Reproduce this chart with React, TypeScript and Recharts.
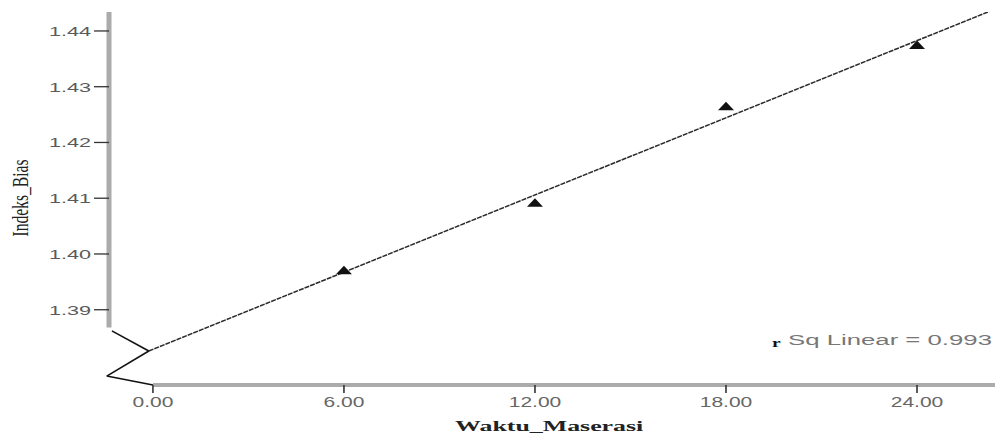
import React from 'react';
import { ScatterChart, Scatter, XAxis, YAxis, ReferenceLine } from 'recharts';

// data
const waktu = [6, 12, 18, 24];
const indeksBias = [1.3971, 1.4092, 1.4265, 1.4375];
const xTicks = [0, 6, 12, 18, 24];
const yTicks = [1.39, 1.4, 1.41, 1.42, 1.43, 1.44];

// linear fit (r Sq = 0.993)
const fitIntercept = 1.3829;
const fitSlope = 0.002307;
const fitX = [-0.13, 26.36];
const rSq = '0.993';

// axis break (zigzag) and axis extents, in data units
const xMin = -1.38;
const xMax = 26.45;
const yMin = 1.3765;
const yMax = 1.4434;
const yAxisBottom = 1.3868;
const breakX = [-1.29, -0.13, -1.45, 0];
const breakY = [1.3862, 1.3826, 1.3781, 1.3765];

const points = waktu.map((x, i) => ({ x, y: indeksBias[i] }));
const fitData = fitX.map((x) => ({ x, y: fitIntercept + fitSlope * x }));
const breakPts = breakX.map((x, i) => ({ x, y: breakY[i] }));

const XTick = (props: any) => {
  const { x, y, payload } = props;
  return (
    <text
      transform={`translate(${x},${y}) scale(1.5,1)`}
      x={0}
      y={0}
      dy={12}
      textAnchor="middle"
      fill="#666"
      fontSize={14}
      fontFamily="Liberation Sans, Arial, sans-serif"
    >
      {Number(payload.value).toFixed(2)}
    </text>
  );
};

const YTick = (props: any) => {
  const { x, y, payload } = props;
  return (
    <text
      transform={`translate(${x - 1},${y}) scale(1.6,1)`}
      x={0}
      y={0}
      dy="0.36em"
      textAnchor="end"
      fill="#5a5a5a"
      fontSize={13.5}
      fontFamily="Liberation Sans, Arial, sans-serif"
    >
      {Number(payload.value).toFixed(2)}
    </text>
  );
};

const Triangle = (props: any) => {
  const { cx, cy } = props;
  return <polygon points={`${cx - 8},${cy + 4} ${cx + 8},${cy + 4} ${cx},${cy - 4.5}`} fill="#111" />;
};

const NoDot = () => <g />;

export default function App() {
  return (
    <div style={{ position: 'absolute', left: 0, top: 0, width: 999, height: 435, background: '#fff' }}>
      <ScatterChart width={999} height={435} margin={{ top: 12, right: 4, bottom: 0, left: 0 }}>
        <XAxis
          type="number"
          dataKey="x"
          domain={[xMin, xMax]}
          ticks={xTicks}
          interval={0}
          allowDataOverflow
          axisLine={false}
          tickLine={{ stroke: '#333', strokeWidth: 1.6 }}
          tickSize={8}
          tickMargin={2}
          tick={<XTick />}
          height={50}
        />
        <YAxis
          type="number"
          dataKey="y"
          domain={[yMin, yMax]}
          ticks={yTicks}
          interval={0}
          allowDataOverflow
          axisLine={false}
          tickLine={{ stroke: '#333', strokeWidth: 1.3 }}
          tickSize={15}
          tickMargin={2}
          tick={<YTick />}
          width={109}
        />
        {/* axis lines */}
        <ReferenceLine
          segment={[{ x: xMin, y: yAxisBottom }, { x: xMin, y: yMax }]}
          stroke="#ababab"
          strokeWidth={5}
          ifOverflow="visible"
        />
        <ReferenceLine
          segment={[{ x: 0, y: yMin }, { x: xMax, y: yMin }]}
          stroke="#ababab"
          strokeWidth={4}
          ifOverflow="visible"
        />
        {/* axis break */}
        {breakPts.slice(0, -1).map((p, i) => (
          <ReferenceLine
            key={`brk-${i}`}
            segment={[p, breakPts[i + 1]]}
            stroke="#111"
            strokeWidth={1.6}
            ifOverflow="visible"
          />
        ))}
        <Scatter
          data={fitData}
          line={{ stroke: '#2a2a2a', strokeWidth: 1.5, strokeDasharray: '5 1' }}
          shape={<NoDot />}
          isAnimationActive={false}
        />
        <Scatter data={points} shape={<Triangle />} isAnimationActive={false} />
      </ScatterChart>
      <svg width={999} height={435} style={{ position: 'absolute', left: 0, top: 0, pointerEvents: 'none' }}>
        <text
          transform="translate(28,198) scale(1.45,1) rotate(-90)"
          textAnchor="middle"
          fill="#222"
          fontSize={15.6}
          fontFamily="Liberation Serif, Times New Roman, serif"
        >
          Indeks_Bias
        </text>
        <text
          transform="translate(455,431) scale(1.85,1)"
          textAnchor="start"
          fill="#222"
          fontSize={14}
          fontWeight="bold"
          fontFamily="Liberation Serif, Times New Roman, serif"
        >
          Waktu_Maserasi
        </text>
        <text
          transform="translate(772,347) scale(1.5,1)"
          fill="#111"
          fontSize={13}
          fontWeight="bold"
          fontFamily="Liberation Serif, Times New Roman, serif"
        >
          r
        </text>
        <text
          transform="translate(788,345) scale(1.84,1)"
          fill="#777"
          fontSize={14}
          fontFamily="Liberation Sans, Arial, sans-serif"
        >
          {`Sq Linear = ${rSq}`}
        </text>
      </svg>
    </div>
  );
}
